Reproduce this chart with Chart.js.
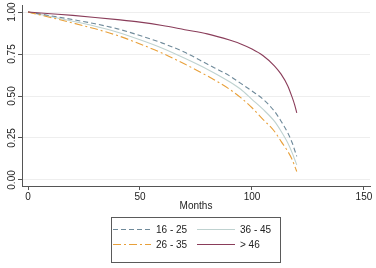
<!DOCTYPE html>
<html><head><meta charset="utf-8">
<script src="https://cdn.jsdelivr.net/npm/chart.js@4"></script>
<style>
html,body{margin:0;padding:0;background:#fff;}
#wrap{position:relative;width:376px;height:268px;overflow:hidden;}
#c{position:absolute;left:0;top:0;}
#legend{position:absolute;left:111px;top:217px;width:168px;height:44px;border:1px solid #5a5a5a;font-family:"Liberation Sans",Arial,sans-serif;font-size:10px;color:#222;}
.item{position:absolute;height:12px;display:flex;align-items:center;white-space:nowrap;}
.item canvas{margin-right:5px;}
</style></head><body>
<div id="wrap"><canvas id="c" width="376" height="268"></canvas><div id="legend"></div></div>
<script>
const months   = [0, 10, 20, 30, 40, 50, 60, 70, 80, 90, 95, 100, 105, 110, 113, 116, 118, 119, 120];
const age16_25 = [1, 0.978, 0.955, 0.93, 0.90, 0.86, 0.815, 0.76, 0.69, 0.62, 0.575, 0.53, 0.48, 0.41, 0.35, 0.28, 0.22, 0.18, 0.14];
const age26_35 = [1, 0.968, 0.935, 0.90, 0.86, 0.81, 0.755, 0.69, 0.62, 0.54, 0.49, 0.43, 0.36, 0.29, 0.23, 0.17, 0.12, 0.085, 0.05];
const age36_45 = [1, 0.973, 0.945, 0.915, 0.88, 0.835, 0.785, 0.725, 0.66, 0.585, 0.54, 0.48, 0.42, 0.35, 0.29, 0.22, 0.16, 0.125, 0.09];
const age46up  = [1, 0.99, 0.98, 0.968, 0.955, 0.94, 0.92, 0.895, 0.87, 0.833, 0.81, 0.78, 0.74, 0.68, 0.63, 0.56, 0.49, 0.45, 0.40];
const seriesLabels = ["16 - 25", "26 - 35", "36 - 45", "> 46"];
const xTicks = [0, 50, 100, 150];
const yTicks = [0, 0.25, 0.5, 0.75, 1];
const yTickLabels = ["0.00", "0.25", "0.50", "0.75", "1.00"];
const xTitle = "Months";

const colors = ["#6f8a9a", "#e8a03a", "#bfd2d0", "#8a3d5a"];
const dashes = [[5, 3], [8, 3, 2, 3], [], []];
const seriesValues = [age16_25, age26_35, age36_45, age46up];

const datasets = seriesValues.map((vals, i) => ({
  label: seriesLabels[i],
  data: months.map((m, j) => ({x: m, y: vals[j]})),
  borderColor: colors[i],
  borderWidth: 1.1,
  borderDash: dashes[i],
  pointRadius: 0,
  fill: false,
  cubicInterpolationMode: 'monotone'
}));
const drawOrder = [2, 0, 1, 3];
drawOrder.forEach((idx, k) => { datasets[idx].order = 4 - k; });

const font = {family: '"Liberation Sans", Arial, sans-serif', size: 10};

new Chart(document.getElementById('c'), {
  type: 'line',
  data: {datasets},
  options: {
    responsive: false,
    devicePixelRatio: 1,
    animation: false,
    layout: {padding: {left: 0, right: 6, top: 5, bottom: 56}},
    plugins: {legend: {display: false}, tooltip: {enabled: false}},
    scales: {
      x: {
        type: 'linear',
        min: -2.68, max: 152.7,
        afterBuildTicks: s => { s.ticks = xTicks.map(v => ({value: v})); },
        afterFit: s => { s.height = 26; },
        grid: {display: true, drawOnChartArea: false, tickLength: 4, tickColor: '#555', color: '#555'},
        border: {display: true, color: '#555', width: 1},
        ticks: {color: '#222', font, padding: 1, maxRotation: 0, minRotation: 0, autoSkip: false,
                callback: v => String(v)},
        title: {display: true, text: xTitle, color: '#222', font, padding: {top: 0, bottom: 0}}
      },
      y: {
        type: 'linear',
        min: -0.036, max: 1.042,
        afterBuildTicks: s => { s.ticks = yTicks.map(v => ({value: v})); },
        afterFit: s => { s.width = 22; },
        grid: {display: true, drawOnChartArea: true, color: '#eeeeee', tickLength: 4, tickColor: '#555', lineWidth: 1},
        border: {display: true, color: '#555', width: 1},
        ticks: {color: '#222', font, padding: -4, crossAlign: 'center', minRotation: 90, maxRotation: 90, autoSkip: false,
                callback: v => yTickLabels[yTicks.indexOf(v)]}
      }
    }
  }
});

const legend = document.getElementById('legend');
const pos = [[1, 5], [1, 20], [85, 5], [85, 20]];
seriesLabels.forEach((lab, i) => {
  const it = document.createElement('div');
  it.className = 'item';
  it.style.left = pos[i][0] + 'px';
  it.style.top = pos[i][1] + 'px';
  const cv = document.createElement('canvas');
  cv.width = 38; cv.height = 12;
  const ctx = cv.getContext('2d');
  ctx.strokeStyle = colors[i];
  ctx.lineWidth = 1.1;
  ctx.setLineDash(dashes[i]);
  ctx.beginPath(); ctx.moveTo(0, 6.5); ctx.lineTo(38, 6.5); ctx.stroke();
  it.appendChild(cv);
  const sp = document.createElement('span');
  sp.textContent = lab;
  it.appendChild(sp);
  legend.appendChild(it);
});
</script>
</body></html>
